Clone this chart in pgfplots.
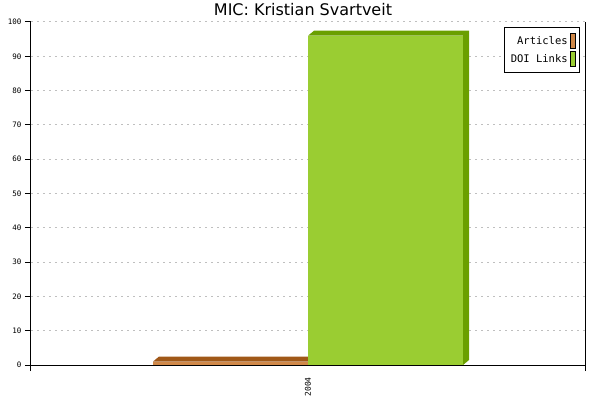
\documentclass[border=0pt]{standalone}
\usepackage{fontspec}
\setmainfont{DejaVu Sans}
\newfontfamily\monof{DejaVu Sans Mono}
\usepackage{pgfplots}
\pgfplotsset{compat=1.18}

\definecolor{artF}{RGB}{208,136,72}
\definecolor{artD}{RGB}{160,88,24}
\definecolor{doiF}{RGB}{154,205,50}
\definecolor{doiD}{RGB}{106,159,0}

\begin{document}
\begin{tikzpicture}
\useasboundingbox (0,0) rectangle (600pt,400pt);
\node[font=\fontsize{16}{18}\selectfont] at (303pt,390pt) {MIC: Kristian Svartveit};
\begin{axis}[
    at={(31pt,35pt)}, anchor=south west,
    scale only axis,
    width=554pt, height=343pt,
    xmin=0, xmax=554,
    ymin=0, ymax=100,
    axis x line*=bottom,
    axis y line*=box,
    axis line style={black, line width=1pt},
    ytick={0,10,...,100},
    ytick pos=left,
    xtick={0,554},
    xticklabels={,},
    extra x ticks={277},
    extra x tick labels={2004},
    extra x tick style={major tick length=0pt,
        tick label style={rotate=90, anchor=east, inner xsep=12pt,
            font=\monof\fontsize{8}{9}\selectfont}},
    tick align=outside,
    major tick length=6pt,
    tick style={black, line width=1pt},
    /pgf/number format/assume math mode=true,
    ticklabel style={font=\monof\fontsize{7.5}{9}\selectfont},
    ymajorgrids,
    y grid style={black!25, line width=1pt, dash pattern=on 2pt off 4pt},
    legend plot pos=right,
    legend cell align=right,
    legend style={at={(0.991,0.985)}, anchor=north east,
        draw=black, line width=1pt, font=\monof\fontsize{10.5}{12}\selectfont,
        inner xsep=4pt, inner ysep=5.5pt, row sep=2pt},
]
% Articles: depth faces (top and side), then front
\addplot[fill=artD, draw=none, forget plot] coordinates {
    (122,1) (128,2.46) (283,2.46) (283,1.46) (277,0) (277,1)};
\addplot[ybar, bar width=155, bar shift=0pt, fill=artF, draw=none,
    legend image code/.code={\draw[fill=artF, draw=black, line width=0.8pt] (0pt,-7.5pt) rectangle (5pt,7.5pt);}]
    coordinates {(199.5,1)};
% DOI Links: depth faces (top and side), then front
\addplot[fill=doiD, draw=none, forget plot] coordinates {
    (277,96) (283,97.46) (438,97.46) (438,1.46) (432,0) (432,96)};
\addplot[ybar, bar width=155, bar shift=0pt, fill=doiF, draw=none,
    legend image code/.code={\draw[fill=doiF, draw=black, line width=0.8pt] (0pt,-7.5pt) rectangle (5pt,7.5pt);}]
    coordinates {(354.5,96)};
\legend{Articles, DOI Links}
\end{axis}
\end{tikzpicture}
\end{document}
